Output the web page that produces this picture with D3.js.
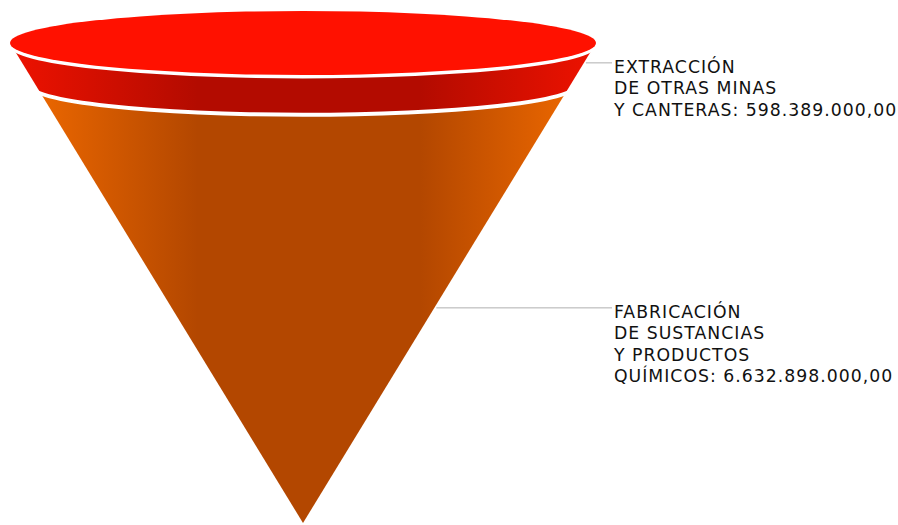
<!DOCTYPE html>
<html>
<head>
<meta charset="utf-8">
<script src="https://cdn.jsdelivr.net/npm/d3@7"></script>
<style>
  html, body { margin: 0; padding: 0; background: #fff; }
  svg { display: block; }
</style>
</head>
<body>
<svg id="funnel"></svg>
<script>
// slice names (line breaks as in the chart labels) and values
const categories = [
    "EXTRACCIÓN\nDE OTRAS MINAS\nY CANTERAS",
    "FABRICACIÓN\nDE SUSTANCIAS\nY PRODUCTOS\nQUÍMICOS"
];
const values = [598389000, 6632898000];
const sliceColors = [
    { top: "#ff1100", edge: "#ee1200", dark: "#b30b00" },
    { top: "#f57000", edge: "#f46c00", dark: "#b34700" }
];

const width = 898;
const height = 525;

const esLocale = d3.formatLocale({ decimal: ",", thousands: ".", grouping: [3], currency: ["", ""] });
const fmt = esLocale.format(",.2f");

const svg = d3.select("#funnel")
    .attr("width", width)
    .attr("height", height);

// cone geometry
const cx = 303;
const topY = 43;
const apexY = 523;
const topR = 293;
const topRy = 32;
const k = topRy / topR; // ellipse flattening
const gap = 4;

const total = d3.sum(values);
const y = d3.scaleLinear().domain([0, total]).range([topY, apexY]);
// half width of the cone at a given y
const halfW = d3.scaleLinear().domain([topY, apexY]).range([topR, 0]);

const defs = svg.append("defs");

defs.append("clipPath").attr("id", "cone")
    .append("path")
    .attr("d", `M${cx - topR},${topY} L${cx + topR},${topY} L${cx},${apexY} Z`);

sliceColors.forEach((c, i) => {
    const g = defs.append("linearGradient")
        .attr("id", "grad" + i)
        .attr("gradientUnits", "userSpaceOnUse")
        .attr("x1", cx - topR).attr("x2", cx + topR)
        .attr("y1", 0).attr("y2", 0);
    [[0, c.edge], [0.32, c.dark], [0.7, c.dark], [1, c.edge]].forEach(s => {
        g.append("stop").attr("offset", s[0]).attr("stop-color", s[1]);
    });
});

// boundaries between slices (cumulative values)
const cum = d3.cumsum(values);
const bounds = [topY];
cum.forEach(v => bounds.push(y(v)));

const coneG = svg.append("g").attr("clip-path", "url(#cone)");

// draw from bottom to top
for (let i = values.length - 1; i >= 0; i--) {
    let upper;
    if (i === 0) {
        // lower arc of the top ellipse, nudged down by the gap
        const cy = topY + gap - 0.5;
        upper = { cy: cy, rx: topR, ry: topRy };
    } else {
        const cy = bounds[i] + gap;
        const rx = halfW(bounds[i]) + 6;
        upper = { cy: cy, rx: rx, ry: rx * k };
    }
    let d = `M${cx - upper.rx},${upper.cy} A${upper.rx},${upper.ry} 0 0 0 ${cx + upper.rx},${upper.cy}`;
    if (i === values.length - 1) {
        d += ` L${cx + upper.rx},${apexY + 5} L${cx - upper.rx},${apexY + 5} Z`;
    } else {
        const cyB = bounds[i + 1];
        const rxB = halfW(cyB) + 6;
        const ryB = rxB * k;
        d += ` L${cx + rxB},${cyB} A${rxB},${ryB} 0 0 1 ${cx - rxB},${cyB} Z`;
    }
    coneG.append("path")
        .attr("d", d)
        .attr("fill", `url(#grad${i})`);
}

// top cap of the first slice
svg.append("ellipse")
    .attr("cx", cx)
    .attr("cy", topY)
    .attr("rx", topR)
    .attr("ry", topRy)
    .attr("fill", sliceColors[0].top);

// labels
const labelX = 614;
const lineH = 21.5;
const labelG = svg.append("g")
    .attr("font-family", "Verdana, 'DejaVu Sans', sans-serif")
    .attr("font-size", 17.3)
    .attr("letter-spacing", "1px")
    .attr("fill", "#111");

categories.forEach((name, i) => {
    const sTop = i === 0 ? bounds[i] : bounds[i] + 10;
    const ly = (sTop + bounds[i + 1]) / 2;
    const edgeX = cx + halfW(ly) + 2;

    svg.append("line")
        .attr("x1", edgeX).attr("x2", labelX - 2)
        .attr("y1", ly).attr("y2", ly)
        .attr("stroke", "#b0b0b0")
        .attr("stroke-width", 1);

    const lines = name.split("\n");
    lines[lines.length - 1] += ": " + fmt(values[i]);
    const t = labelG.append("text")
        .attr("x", labelX)
        .attr("y", ly + 10);
    lines.forEach((l, j) => {
        t.append("tspan")
            .attr("x", labelX)
            .attr("dy", j === 0 ? 0 : lineH)
            .text(l);
    });
});
</script>
</body>
</html>
